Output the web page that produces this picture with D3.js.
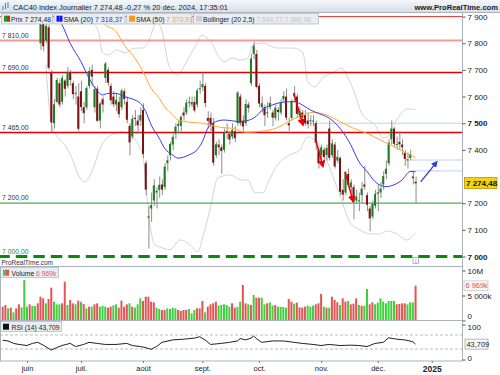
<!DOCTYPE html>
<html>
<head>
<meta charset="utf-8">
<script src="https://cdn.jsdelivr.net/npm/d3@7"></script>
<style>
  body { margin: 0; background: #fff; }
  svg { display: block; font-family: "Liberation Sans", Arial, sans-serif; }
</style>
</head>
<body>
<svg></svg>
<script>
const size = {w: 500, h: 375};
const panel = {l: 0, r: 462.5, t: 13, priceB: 259, volT: 266.5, volB: 320.5, rsiB: 361};

// day index 0 = 3 juin 2024, one step per trading day
const monthDays = [0, 20, 43, 65, 86, 109, 130, 150];
const monthLabels = ['juin', 'juil.', 'août', 'sept.', 'oct.', 'nov.', 'déc.', '2025'];
// 7 300 sits under the last-price tag
const priceTicks = [7000, 7100, 7200, 7400, 7500, 7600, 7700, 7800, 7900];

// [open, high, low, close] from day 0
const ohlc = [
  // juin
  [7992,8035,7960,7998],[7980,7990,7910,7937],[7950,8010,7930,8006],[8010,8060,8000,8041],[8040,8045,7980,8002],
  [7800,7905,7775,7890],[7880,7895,7770,7789],[7810,7900,7800,7865],[7860,7870,7700,7708],[7690,7700,7466,7503],
  [7500,7590,7480,7571],[7580,7670,7575,7662],[7650,7665,7560,7570],[7580,7680,7570,7671],[7660,7665,7600,7629],
  [7640,7710,7630,7693],[7690,7700,7640,7662],[7650,7660,7590,7609],[7610,7640,7570,7614],[7600,7650,7470,7479],
  // juillet
  [7620,7660,7545,7561],[7560,7580,7500,7538],[7560,7640,7550,7632],[7640,7710,7630,7696],[7700,7720,7640,7675],
  [7560,7640,7540,7628],[7630,7640,7505,7509],[7510,7580,7480,7574],[7590,7600,7540,7570],[7670,7730,7650,7724],
  [7700,7710,7640,7652],[7640,7650,7570,7586],[7600,7620,7560,7571],[7570,7610,7545,7587],[7580,7600,7520,7534],
  [7560,7630,7550,7623],[7620,7630,7570,7591],[7580,7600,7500,7513],[7490,7500,7380,7428],[7450,7530,7440,7517],
  [7520,7550,7490,7516],[7510,7530,7460,7492],[7510,7560,7490,7531],
  // août
  [7550,7575,7370,7385],[7350,7360,7230,7251],[7150,7190,7030,7148],[7180,7240,7130,7193],[7210,7290,7190,7267],
  [7240,7260,7180,7247],[7250,7300,7220,7269],[7270,7290,7230,7251],[7260,7350,7250,7337],[7350,7380,7320,7361],
  [7380,7430,7360,7422],[7420,7460,7400,7449],[7460,7500,7440,7487],[7490,7510,7460,7497],[7490,7530,7470,7524],
  [7540,7560,7510,7529],[7540,7590,7530,7577],[7580,7600,7560,7580],[7570,7600,7560,7579],[7580,7600,7540,7548],
  [7570,7630,7560,7623],[7630,7660,7610,7631],
  // septembre
  [7635,7690,7620,7647],[7640,7650,7560,7576],[7520,7545,7480,7509],[7520,7540,7470,7495],[7500,7520,7340,7352],
  [7380,7430,7370,7421],[7420,7440,7380,7410],[7410,7420,7310,7396],[7400,7480,7390,7465],[7470,7500,7440,7466],
  [7460,7470,7420,7439],[7450,7500,7440,7474],[7470,7490,7430,7444],[7500,7620,7490,7615],[7600,7610,7490,7500],
  [7510,7530,7470,7488],[7500,7590,7490,7572],[7570,7580,7540,7557],[7650,7760,7640,7743],[7760,7806,7740,7791],
  [7760,7775,7630,7636],
  // octobre
  [7640,7650,7560,7574],[7560,7600,7540,7575],[7560,7570,7490,7530],[7540,7580,7520,7541],[7560,7600,7550,7576],
  [7540,7550,7490,7521],[7520,7570,7510,7558],[7550,7560,7510,7542],[7540,7590,7530,7577],[7590,7620,7580,7602],
  [7600,7630,7510,7521],[7500,7520,7470,7492],[7520,7590,7510,7583],[7600,7640,7580,7613],[7600,7610,7520,7535],
  [7530,7560,7500,7545],[7540,7550,7490,7522],[7530,7550,7490,7500],[7510,7540,7480,7497],[7510,7530,7490,7511],
  [7510,7530,7490,7510],[7500,7510,7400,7427],[7400,7410,7330,7350],
  // novembre
  [7380,7420,7340,7409],[7400,7410,7350,7373],[7380,7420,7360,7407],[7480,7510,7360,7370],[7380,7440,7370,7425],
  [7420,7430,7330,7338],[7360,7400,7350,7374],[7370,7375,7230,7243],[7250,7290,7210,7232],[7240,7320,7230,7312],
  [7310,7330,7260,7269],[7260,7290,7240,7278],[7260,7270,7140,7204],[7210,7250,7200,7225],[7210,7240,7170,7211],
  [7230,7280,7200,7255],[7270,7340,7250,7262],[7230,7240,7170,7194],[7180,7190,7095,7143],[7150,7210,7140,7198],
  [7190,7250,7180,7235],
  // décembre
  [7240,7270,7170,7236],[7240,7280,7220,7255],[7270,7320,7250,7302],[7310,7360,7290,7329],[7350,7440,7340,7427],
  [7440,7510,7420,7480],[7480,7485,7410,7423],[7420,7450,7400,7422],[7430,7470,7400,7421],[7420,7440,7380,7410],
  [7390,7400,7340,7366],[7360,7390,7330,7365],[7370,7400,7360,7384],[7300,7320,7270,7294],[7280,7300,7200,7274.48]
];

// volumes (k), first bar on day -9
const volFirstDay = -9;
const volumes = [
  2767,3100,2433,2567,1633,2433,3233,2633,8100,2767, 3233,2900,2900,3433,4767,4433,3433,4300,6567,3767,
  3233,3233,3433,7767,3100,4100,3433,3233,3967,3767, 3300,2433,2767,2767,3233,3433,2767,2900,2767,2567,
  2767,3033,3233,2567,3967,2767,3233,3433,2767,2567, 3233,4433,3900,4767,4767,3767,3633,2567,2300,2100,
  2100,2433,2300,2567,2433,2100,1900,2100,2100,2300, 1433,2100,2433,2433,3900,1633,2767,3233,3433,3767,
  2967,3100,3233,3100,2767,3433,2567,2767,3767,7100, 3433,3233,3100,
  5100,4567,4567,4567,3233,3433,3633,2967,3100,2767, 2700,2700,2567,4300,3767,3367,3567,2633,2567,2767,
  2967,2767,2967,3233,3433,5300,2767,2567,2567,4767, 4100,3633,3100,4433,3767,3900,3233,3367,4433,3100,
  2967,2967,6300,3233,3633,3233,3567,4433,3767,3433, 3900,3900,3900,3233,3300,3433,3433,3233,3633,3633,
  6969
];
const volDir = 'rrgrgrrggg' + 'rggrrrgrrg' + 'ggrrgrrgrg' + 'rgrgrrgggr' + 'rggrrrrgrg' + 'ggrrrrrggr' +
  'rggggrrrrg' + 'ggrrrgrrrr' + 'gggggrrggr' + 'rgr' +
  'grrggrggrg' + 'gggrrgrrrr' + 'gggrrrgrgr' + 'rrgrrgrrrg' + 'rggrrggggg' + 'gggrrrrggg' + 'r';

// indicators: [day, value]
const sma20 = [[10,7915],[13,7869],[16,7800],[20,7731],[23,7669],[26,7622],[28,7606],[30,7612],[33,7612],
  [36,7600],[40,7587],[42,7575],[44,7544],[46,7494],[49,7444],[51,7406],[54,7381],[56,7369],[60,7381],
  [63,7400],[65,7431],[67,7481],[70,7506],[73,7512],[79,7506],[84,7519],[88,7556],[91,7569],[95,7579],
  [99,7581],[102,7569],[105,7550],[108,7537],[112,7519],[116,7481],[120,7419],[123,7356],[126,7319],
  [129,7281],[133,7262],[136,7269],[139,7287],[142,7319],[144,7318]];
const sma50 = [[25,7920],[29,7869],[33,7844],[36,7794],[40,7744],[43,7694],[46,7631],[49,7594],[51,7562],
  [54,7531],[56,7512],[60,7504],[65,7500],[68,7494],[72,7484],[76,7481],[81,7466],[88,7471],[93,7484],
  [97,7506],[102,7531],[106,7541],[111,7531],[116,7506],[121,7481],[126,7462],[131,7437],[136,7412],
  [139,7396],[144,7371]];
const bollUp = [[25.2,7869],[27,7820],[27.8,7767],[30,7756],[33.3,7775],[36.3,7764],[40,7782],[42.6,7782],
  [44.8,7801],[46.3,7842],[48.1,7880],[50.4,7831],[52.2,7730],[54.1,7692],[55.9,7681],[58.5,7719],
  [61.1,7767],[63.3,7805],[64.8,7831],[66.7,7820],[68.9,7794],[70.7,7756],[73.3,7730],[76.3,7745],
  [78.9,7737],[81.9,7745],[83.7,7794],[87.4,7801],[92.6,7782],[98.5,7782],[102.2,7767],[104.1,7655],
  [106.7,7636],[109.6,7670],[113.3,7689],[116.7,7707],[117.8,7692],[120.7,7632],[124.4,7531],
  [128.9,7494],[131.9,7445],[133.7,7449],[136.3,7501],[138.9,7539],[141.1,7554],[144,7550]];
const bollLow = [[7,7720],[9.1,7494],[11.6,7445],[14,7419],[16.6,7370],[19.6,7295],[21.5,7280],[24,7317],
  [27.7,7419],[31.4,7456],[35.1,7467],[38.8,7456],[41.2,7419],[43.1,7370],[44.3,7242],[45.6,7119],
  [47.4,7044],[49.3,7036],[53,7025],[56.7,7062],[60.4,7044],[63.3,7017],[65.2,7074],[67.8,7175],
  [70.7,7295],[75.2,7306],[79.6,7287],[81.9,7287],[84.4,7239],[87.4,7239],[89.3,7276],[92.6,7340],
  [97.4,7381],[101.1,7400],[104.1,7449],[106.7,7437],[109.3,7400],[112.2,7332],[115.9,7231],
  [119.6,7130],[123.3,7100],[127,7085],[130.7,7085],[133.3,7096],[137,7085],[140.7,7062],[144,7087]];
const rsi = [[-9,55],[-7,53],[-5,46],[-3,43],[0,40],[2,46],[4,49],[6,41],[9,27],[11,34],[13,40],[16,46],
  [18,37],[21,43],[23,49],[26,46],[29,43],[33,43],[37,46],[39,40],[42,37],[44,34],[46,29],[48,37],
  [50,49],[54,56],[58,58],[62,61],[64,65],[66,56],[68,43],[72,46],[75,49],[78,53],[79,60],[81,56],
  [83,61],[84,67],[85,60],[87,49],[91,53],[95,53],[99,49],[102,46],[106,43],[109,40],[112,43],[116,40],
  [120,41],[123,40],[126,37],[129,46],[132,49],[134,62],[137,58],[140,56],[143,51],[144,44]];

// horizontal levels and drawings
const levels = [7900, 7810, 7690, 7465, 7200, 7000];
const levelStyle = [
  {c: '#e83030', w: 1, label: false}, {c: '#f29a9a', w: 2, label: true}, {c: '#e00000', w: 1.5, label: true},
  {c: '#e00000', w: 1.5, label: true}, {c: '#4cb04c', w: 1.2, label: true}, {c: '#0a8a0a', w: 3, label: true, dash: '11.5,6'}
];
const guides = [[104, 7500], [142, 7362], [142, 7321]];
const redArrows = [[[98.9, 7612], [102.3, 7493]], [[107, 7437], [109.7, 7337]], [[117.8, 7318], [120.9, 7206]]];
const blueArrow = [[145.9, 7280], [151.9, 7355]];

const legendValues = {prix: '7 274,48', sma20: '7 318,37', sma50: '7 370,91', boll: '7 549,77  7 086,98', vol: '6 969k', rsi: '43,709'};
const titleText = 'CAC40 Index Journalier 7 274,48 -0,27 % 20 déc. 2024, 17:35:01';

const loc = d3.formatLocale({decimal: ',', thousands: ' ', grouping: [3], currency: ['', '']});
const fmtInt = loc.format(',.0f');
const fmt2 = loc.format(',.2f');

const svg = d3.select('svg').attr('width', size.w).attr('height', size.h);

const x = d3.scaleLinear().domain([-10, 161.4]).range([panel.l, panel.r]);
const yPrice = d3.scaleLinear().domain([7000, 7900]).range([256.5, 16.6]);
const yVol = d3.scaleLinear().domain([0, 10000]).range([panel.volB, 270.5]);
const yRsi = d3.scaleLinear().domain([0, 100]).range([359.5, 324.5]);

const defs = svg.append('defs');
defs.append('clipPath').attr('id', 'clipPrice').append('rect')
  .attr('x', panel.l).attr('y', panel.t).attr('width', panel.r - panel.l).attr('height', panel.priceB - panel.t);
const grad = defs.append('linearGradient').attr('id', 'titleGrad').attr('x1', 0).attr('x2', 0).attr('y1', 0).attr('y2', 1);
grad.append('stop').attr('offset', 0).attr('stop-color', '#f5f8fb');
grad.append('stop').attr('offset', 1).attr('stop-color', '#d5dde6');
['red', 'blue'].forEach(k => {
  defs.append('marker').attr('id', 'head-' + k).attr('viewBox', '0 0 10 10')
    .attr('refX', 8).attr('refY', 5).attr('markerWidth', 5).attr('markerHeight', 5)
    .attr('orient', 'auto').append('path').attr('d', 'M0,0L10,5L0,10z')
    .attr('fill', k === 'red' ? '#f00000' : '#2f3fd0');
});

drawPrice();
drawVolume();
drawRsi();
drawFrame();
drawAxes();
drawHeader();

function drawPrice() {
  const g = svg.append('g').attr('clip-path', 'url(#clipPrice)');
  const line = d3.line().x(d => x(d[0])).y(d => yPrice(d[1])).curve(d3.curveMonotoneX);

  // bollinger bands
  [bollUp, bollLow].forEach(b => g.append('path').attr('d', line(b))
    .attr('fill', 'none').attr('stroke', '#d4d4d4').attr('stroke-width', 1));

  // horizontal levels
  levels.forEach((v, i) => {
    const s = levelStyle[i];
    g.append('line').attr('x1', panel.l).attr('x2', panel.r)
      .attr('y1', yPrice(v)).attr('y2', yPrice(v))
      .attr('stroke', s.c).attr('stroke-width', s.w)
      .attr('stroke-dasharray', s.dash || null).attr('stroke-dashoffset', s.dash ? 1.7 : null);
    if (s.label) {
      g.append('text').attr('x', 2).attr('y', yPrice(v) - 3)
        .attr('font-size', 6.8).attr('fill', v === 7000 ? '#1f8a1f' : '#333')
        .text(fmt2(v));
    }
  });

  g.selectAll('line.guide').data(guides).join('line').classed('guide', true)
    .attr('x1', d => x(d[0])).attr('x2', panel.r)
    .attr('y1', d => yPrice(d[1])).attr('y2', d => yPrice(d[1]))
    .attr('stroke', '#c3cff0').attr('stroke-width', 1);

  // candles
  const c = g.append('g').classed('candles', true);
  c.selectAll('line').data(ohlc).join('line')
    .attr('x1', (d, i) => x(i) + 0.5).attr('x2', (d, i) => x(i) + 0.5)
    .attr('y1', d => yPrice(d[1])).attr('y2', d => yPrice(d[2]))
    .attr('stroke', '#8c8c8c').attr('stroke-width', 1);
  c.selectAll('rect').data(ohlc).join('rect')
    .attr('x', (d, i) => x(i) - 1).attr('width', 2)
    .attr('y', d => yPrice(Math.max(d[0], d[3])))
    .attr('height', d => Math.max(1, Math.abs(yPrice(d[0]) - yPrice(d[3]))))
    .attr('fill', d => d[3] >= d[0] ? '#1e7d1e' : '#7a1212');

  // moving averages
  g.append('path').attr('d', line(sma50)).attr('fill', 'none').attr('stroke', '#ffa733').attr('stroke-width', 1);
  g.append('path').attr('d', line(sma20)).attr('fill', 'none').attr('stroke', '#3a3af0').attr('stroke-width', 1);

  // arrows
  redArrows.forEach(a => g.append('line')
    .attr('x1', x(a[0][0])).attr('y1', yPrice(a[0][1])).attr('x2', x(a[1][0])).attr('y2', yPrice(a[1][1]))
    .attr('stroke', '#f00000').attr('stroke-width', 1.5).attr('marker-end', 'url(#head-red)'));
  g.append('line')
    .attr('x1', x(blueArrow[0][0])).attr('y1', yPrice(blueArrow[0][1]))
    .attr('x2', x(blueArrow[1][0])).attr('y2', yPrice(blueArrow[1][1]))
    .attr('stroke', '#2f3fd0').attr('stroke-width', 1.3).attr('marker-end', 'url(#head-blue)');

  svg.append('text').attr('x', 1.5).attr('y', 264.5).attr('font-size', 7.5).attr('fill', '#333')
    .attr('textLength', 51.5).attr('lengthAdjust', 'spacingAndGlyphs').text('ProRealTime.com');
  svg.append('rect').attr('x', 413).attr('y', 257.5).attr('width', 5.5).attr('height', 6)
    .attr('fill', '#fff').attr('stroke', '#999').attr('stroke-width', 0.7);
  svg.append('text').attr('x', 415.7).attr('y', 262.8).attr('font-size', 5).attr('text-anchor', 'middle')
    .attr('fill', '#666').text('i');
}

function drawVolume() {
  const g = svg.append('g');
  g.selectAll('rect').data(volumes).join('rect')
    .attr('x', (d, i) => x(volFirstDay + i) - 1).attr('width', 2)
    .attr('y', d => yVol(d)).attr('height', d => yVol(0) - yVol(d))
    .attr('fill', (d, i) => volDir[i] === 'g' ? '#3fcf3f' : '#e35454');

  legendBox(g, {x: 0.5, y: 267.5, w: 58, h: 10, tx: 11.5, tl: 45, label: 'Volume', value: legendValues.vol,
    vc: '#e06060', icon: ['#3fcf3f', '#e35454']});
}

function drawRsi() {
  const g = svg.append('g');
  [70, 30].forEach(v => g.append('line').attr('x1', panel.l).attr('x2', panel.r)
    .attr('y1', yRsi(v)).attr('y2', yRsi(v))
    .attr('stroke', '#aaa').attr('stroke-width', 0.8).attr('stroke-dasharray', '3,2'));
  const line = d3.line().x(d => x(d[0])).y(d => yRsi(d[1]));
  g.append('path').attr('d', line(rsi)).attr('fill', 'none').attr('stroke', '#222').attr('stroke-width', 1);

  legendBox(g, {x: 0.5, y: 321.5, w: 61, h: 10, tx: 11.5, tl: 48, label: 'RSI (14)', value: legendValues.rsi,
    vc: '#222', icon: ['#111', '#111']});
}

// box with icon, label and value; font shrinks so the text fits the width
function legendBox(g, o) {
  g.append('rect').attr('x', o.x).attr('y', o.y).attr('width', o.w).attr('height', o.h)
    .attr('fill', '#e9edf1').attr('stroke', '#b3bcc6').attr('stroke-width', 0.8);
  g.append('rect').attr('x', o.x + 2.5).attr('y', o.y + 2.2).attr('width', 3).attr('height', 6).attr('fill', o.icon[0]);
  g.append('rect').attr('x', o.x + 5.5).attr('y', o.y + 2.2).attr('width', 3).attr('height', 6).attr('fill', o.icon[1]);
  const t = g.append('text').attr('x', o.tx).attr('y', o.y + 8).attr('font-size', 7.4);
  t.append('tspan').attr('fill', '#222').text(o.label + ' ');
  t.append('tspan').attr('fill', o.vc).text(o.value);
  const w = t.node().getComputedTextLength();
  if (w > o.tl) t.attr('font-size', (7.4 * o.tl / w).toFixed(2));
}

function drawFrame() {
  const g = svg.append('g').attr('stroke', '#a9b3bd').attr('stroke-width', 1).attr('fill', 'none');
  g.append('line').attr('x1', panel.r).attr('x2', panel.r).attr('y1', panel.t).attr('y2', panel.rsiB);
  g.append('line').attr('x1', 0.5).attr('x2', 0.5).attr('y1', panel.volT).attr('y2', panel.rsiB);
  [panel.volT, panel.volB, panel.rsiB].forEach(y => g.append('line')
    .attr('x1', 0).attr('x2', panel.r).attr('y1', y).attr('y2', y));
}

function drawAxes() {
  // price axis
  const pa = svg.append('g').attr('transform', `translate(${panel.r},0)`)
    .call(d3.axisRight(yPrice).tickValues(priceTicks).tickSize(3).tickPadding(2).tickFormat(fmtInt));
  pa.select('.domain').remove();
  pa.selectAll('line').attr('stroke', '#555');
  pa.selectAll('text').attr('font-size', 8).attr('fill', '#222').attr('font-family', null)
    .attr('font-weight', d => d % 500 === 0 ? 'bold' : null);

  const last = ohlc[ohlc.length - 1][3];
  svg.append('rect').attr('x', 464.5).attr('y', yPrice(last) - 5.8).attr('width', 32.5).attr('height', 11)
    .attr('fill', '#f4d20c').attr('stroke', '#a88c00').attr('stroke-width', 0.7);
  svg.append('text').attr('x', 466).attr('y', yPrice(last) + 2.8).attr('font-size', 8)
    .attr('font-weight', 'bold').attr('fill', '#111').text(fmt2(last));

  // volume axis
  const va = svg.append('g').attr('transform', `translate(${panel.r},0)`)
    .call(d3.axisRight(yVol).tickValues([0, 5000, 10000]).tickSize(3).tickPadding(2)
      .tickFormat(d => d === 0 ? '0' : d === 10000 ? '10M' : fmtInt(d) + 'k'));
  va.select('.domain').remove();
  va.selectAll('line').attr('stroke', '#555');
  va.selectAll('text').attr('font-size', 8).attr('fill', '#222').attr('font-family', null)
    .attr('dy', d => d === 0 ? '-0.2em' : '0.32em');
  const lastVol = volumes[volumes.length - 1];
  svg.append('rect').attr('x', 464).attr('y', yVol(lastVol) - 4.8).attr('width', 24).attr('height', 9.5)
    .attr('fill', '#f7f7f7').attr('stroke', '#c4c4c4').attr('stroke-width', 0.7);
  svg.append('text').attr('x', 465.5).attr('y', yVol(lastVol) + 2.6).attr('font-size', 7.4)
    .attr('fill', '#e05050').text(legendValues.vol);

  // rsi axis
  const ra = svg.append('g').attr('transform', `translate(${panel.r},0)`)
    .call(d3.axisRight(yRsi).tickValues([0, 100]).tickSize(3).tickPadding(2));
  ra.select('.domain').remove();
  ra.selectAll('line').attr('stroke', '#555');
  ra.selectAll('text').attr('font-size', 8).attr('fill', '#222').attr('font-family', null)
    .attr('dy', d => d === 0 ? '0.1em' : '0.6em');
  const lastRsi = rsi[rsi.length - 1][1];
  svg.append('rect').attr('x', 465).attr('y', yRsi(lastRsi) - 5).attr('width', 23).attr('height', 10)
    .attr('fill', '#f7f7f7').attr('stroke', '#999').attr('stroke-width', 0.7);
  svg.append('text').attr('x', 466.5).attr('y', yRsi(lastRsi) + 2.7).attr('font-size', 7.4)
    .attr('fill', '#222').text(legendValues.rsi);

  // month axis
  const xa = svg.append('g').attr('transform', `translate(0,${panel.rsiB})`)
    .call(d3.axisBottom(x).tickValues(monthDays).tickSize(2).tickPadding(3)
      .tickFormat((d, i) => monthLabels[i]));
  xa.select('.domain').remove();
  xa.selectAll('line').attr('stroke', '#777');
  xa.selectAll('text').attr('fill', '#222').attr('font-family', null)
    .attr('font-weight', (d, i) => monthLabels[i] === '2025' ? 'bold' : null)
    .attr('font-size', (d, i) => monthLabels[i] === '2025' ? 8.5 : 7.5);
}

function drawHeader() {
  svg.append('rect').attr('x', 0).attr('y', 0).attr('width', size.w).attr('height', 12.5).attr('fill', 'url(#titleGrad)');
  svg.append('line').attr('x1', 0).attr('x2', size.w).attr('y1', 12.5).attr('y2', 12.5).attr('stroke', '#aab5c0');
  // small chart icon
  const ic = svg.append('g').attr('stroke', '#3a7fd0').attr('stroke-width', 1);
  [[3, 6, 10], [5.5, 3, 9], [8, 2, 8]].forEach(d => ic.append('line')
    .attr('x1', d[0]).attr('x2', d[0]).attr('y1', d[1]).attr('y2', d[2]));
  svg.append('text').attr('x', 13).attr('y', 9.8).attr('font-size', 8).attr('fill', '#1a1a1a')
    .attr('textLength', 215).attr('lengthAdjust', 'spacingAndGlyphs').text(titleText);
  svg.append('text').attr('x', 498).attr('y', 9.5).attr('font-size', 7.6).attr('font-weight', 'bold')
    .attr('text-anchor', 'end').attr('fill', '#1a1a1a').text('www.ProRealTime.com');

  // price legends
  const items = [
    {x: 1.5, w: 51, tl: 40, label: 'Prix', value: legendValues.prix, vc: '#222', icon: ['#1e9a1e', '#d42020']},
    {x: 54, w: 71, tl: 59, label: 'SMA (20)', value: legendValues.sma20, vc: '#2b2bff', icon: ['#1010ff', '#1010ff']},
    {x: 126.5, w: 65.5, tl: 57, label: 'SMA (50)', value: legendValues.sma50, vc: '#f5a040', icon: ['#ff9a1a', '#ff9a1a']},
    {x: 193.5, w: 125, tl: 108, label: 'Bollinger (20 2,5)', value: legendValues.boll, vc: '#c4c4c4', icon: ['#cfcfcf', '#cfcfcf']}
  ];
  const lg = svg.append('g');
  items.forEach(it => legendBox(lg, {x: it.x, y: 13.5, w: it.w, h: 10.5, tx: it.x + 9.5, tl: it.tl,
    label: it.label, value: it.value, vc: it.vc, icon: it.icon}));
}
</script>
</body>
</html>
